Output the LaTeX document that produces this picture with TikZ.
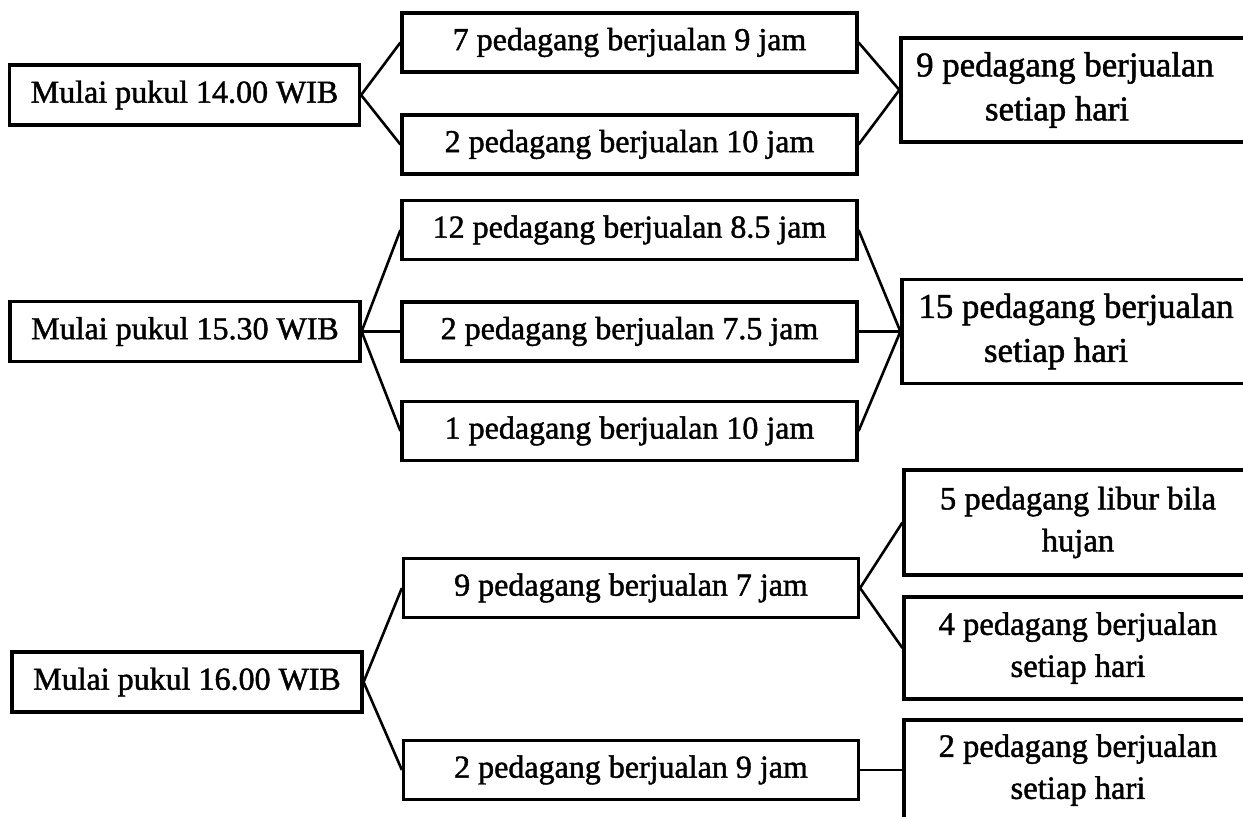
\documentclass[tikz,border=0pt]{standalone}
\usepackage{fontspec}
\setmainfont{Liberation Serif}
\newfontfamily\heavyserif{Liberation Serif}[FakeBold=1.4]
\begin{document}
\begin{tikzpicture}[x=0.5pt,y=-0.5pt,
  every node/.style={font=\heavyserif\fontsize{16pt}{20pt}\selectfont, inner sep=0pt},
  frame/.style={draw, line width=1.6pt},
  startbox/.style={frame, minimum width=175pt, minimum height=30pt},
  stepbox/.style={frame, minimum width=227.5pt, minimum height=29.5pt},
  endbox/.style={frame, minimum width=174pt, minimum height=#1, align=center,
    font=\heavyserif\fontsize{16.3pt}{21pt}\selectfont},
  wideend/.style={endbox=#1, font=\heavyserif\fontsize{17.4pt}{22pt}\selectfont},
  link/.style={line width=1.3pt}]
\useasboundingbox (0,0) rectangle (1243,816);
\clip (0,0) rectangle (1243,816);

% first start time
\node[startbox] (s1) at (184.5,95) {Mulai pukul 14.00 WIB};
\node[stepbox] (a1) at (629.5,42.5) {7 pedagang berjualan 9 jam};
\node[stepbox] (a2) at (629.5,144.5) {2 pedagang berjualan 10 jam};
\node[wideend=52pt] (e1) at (1075,90) {9 pedagang berjualan\hspace*{10pt}\\setiap hari\hspace*{18pt}};
\draw[link] (s1.east) -- (a1.west);
\draw[link] (s1.east) -- (a2.west);
\draw[link] (a1.east) -- (e1.west);
\draw[link] (a2.east) -- (e1.west);

% second start time
\node[startbox] (s2) at (185,331.5) {Mulai pukul 15.30 WIB};
\node[stepbox] (b1) at (629.5,230) {12 pedagang berjualan 8.5 jam};
\node[stepbox] (b2) at (629.5,331.5) {2 pedagang berjualan 7.5 jam};
\node[stepbox] (b3) at (629.5,431) {1 pedagang berjualan 10 jam};
\node[wideend=52pt] (e2) at (1076,331.5) {15 pedagang berjualan\\setiap hari\hspace*{20pt}};
\draw[link] (s2.east) -- (b1.west);
\draw[link] (s2.east) -- (b2.west);
\draw[link] (s2.east) -- (b3.west);
\draw[link] (b1.east) -- (e2.west);
\draw[link] (b2.east) -- (e2.west);
\draw[link] (b3.east) -- (e2.west);

% third start time
\node[startbox] (s3) at (187,682) {Mulai pukul 16.00 WIB};
\node[stepbox] (c1) at (631,588) {9 pedagang berjualan 7 jam};
\node[stepbox] (c2) at (631,770) {2 pedagang berjualan 9 jam};
\node[endbox=52.5pt] (e3) at (1078,522.5) {5 pedagang libur bila\\hujan};
\node[endbox=51pt] (e4) at (1078,648) {4 pedagang berjualan\\setiap hari};
\node[endbox=50pt] (e5) at (1078,770) {2 pedagang berjualan\\setiap hari};
\draw[link] (s3.east) -- (c1.west);
\draw[link] (s3.east) -- (c2.west);
\draw[link] (c1.east) -- (e3.west);
\draw[link] (c1.east) -- (e4.west);
\draw[link] (c2.east) -- (e5.west);
\end{tikzpicture}
\end{document}
